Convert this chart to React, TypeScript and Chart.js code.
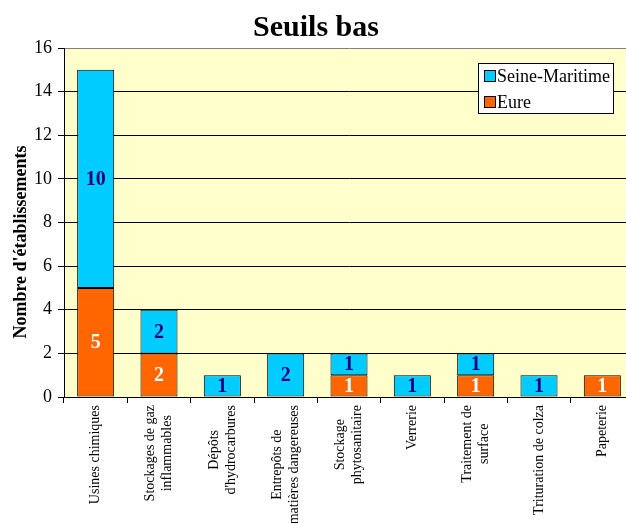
import React, { useEffect, useRef } from "react";
import { Chart, registerables } from "chart.js";

Chart.register(...registerables);

const categories: string[][] = [
  ["Usines chimiques"],
  ["Stockages de gaz", "inflammables"],
  ["Dépôts", "d'hydrocarbures"],
  ["Entrepôts de", "matières dangereuses"],
  ["Stockage", "phytosanitaire"],
  ["Verrerie"],
  ["Traitement de", "surface"],
  ["Trituration de colza"],
  ["Papeterie"],
];
const eure = [5, 2, 0, 0, 1, 0, 1, 0, 1];
const seineMaritime = [10, 2, 1, 2, 1, 1, 1, 1, 0];
const seriesNames = ["Eure", "Seine-Maritime"];
const yMin = 0;
const yMax = 16;
const yStep = 2;
const titleText = "Seuils bas";
const yTitleText = "Nombre d'établissements";

const SERIF = '"Liberation Serif", "Times New Roman", serif';
const COLORS = ["#FF6600", "#00CCFF"];
const LABEL_COLORS = ["#FFFFFF", "#000080"];

export default function App() {
  const ref = useRef<HTMLCanvasElement | null>(null);

  useEffect(() => {
    if (!ref.current) return;

    const bgPlugin = {
      id: "plotBg",
      beforeDraw(chart: any) {
        const { ctx, chartArea } = chart;
        ctx.save();
        ctx.fillStyle = "#FFFFCC";
        ctx.fillRect(chartArea.left, chartArea.top, chartArea.right - chartArea.left, chartArea.bottom - chartArea.top);
        ctx.restore();
      },
    };

    const textPlugin = {
      id: "texts",
      afterDatasetsDraw(chart: any) {
        const { ctx } = chart;
        ctx.save();
        ctx.font = `bold 20px ${SERIF}`;
        ctx.textAlign = "center";
        ctx.textBaseline = "middle";
        chart.data.datasets.forEach((ds: any, di: number) => {
          const meta = chart.getDatasetMeta(di);
          meta.data.forEach((el: any, i: number) => {
            const v = ds.data[i];
            if (!v) return;
            const p = el.getProps(["x", "y", "base"], true);
            ctx.fillStyle = LABEL_COLORS[di];
            ctx.fillText(String(v), p.x, (p.y + p.base) / 2 + 1);
          });
        });
        ctx.restore();
      },
      afterDraw(chart: any) {
        const { ctx, chartArea } = chart;
        const xs = chart.scales.x;
        ctx.save();
        // Title
        ctx.fillStyle = "#000";
        ctx.font = `bold 30px ${SERIF}`;
        ctx.textAlign = "center";
        ctx.textBaseline = "alphabetic";
        ctx.fillText(titleText, 316, 36);
        // Y title
        ctx.save();
        ctx.translate(21, 242);
        ctx.rotate(-Math.PI / 2);
        ctx.font = `bold 18px ${SERIF}`;
        ctx.textBaseline = "middle";
        ctx.fillText(yTitleText, 0, 0);
        ctx.restore();
        // X labels
        ctx.font = `14px ${SERIF}`;
        ctx.textAlign = "center";
        ctx.textBaseline = "middle";
        categories.forEach((lines, i) => {
          const x = xs.getPixelForValue(i);
          const maxW = Math.max(...lines.map((l) => ctx.measureText(l).width));
          const top = chartArea.bottom + 8;
          ctx.save();
          ctx.translate(x, top + maxW / 2);
          ctx.rotate(-Math.PI / 2);
          lines.forEach((l, j) => {
            ctx.fillText(l, 0, (j - (lines.length - 1) / 2) * 17);
          });
          ctx.restore();
        });
        // Legend
        const bx = 478, by = 63, bw = 135, bh = 50;
        ctx.fillStyle = "#FFFFFF";
        ctx.fillRect(bx, by, bw, bh);
        ctx.strokeStyle = "#000";
        ctx.lineWidth = 1;
        ctx.strokeRect(bx + 0.5, by + 0.5, bw, bh);
        const items = chart.data.datasets.map((d: any, k: number) => ({ label: d.label, color: d.backgroundColor, k })).reverse();
        ctx.font = `18px ${SERIF}`;
        ctx.textAlign = "left";
        ctx.textBaseline = "middle";
        items.forEach((it: any, n: number) => {
          const cy = by + 13 + n * 26;
          ctx.fillStyle = it.color;
          ctx.fillRect(484, cy - 5.5, 11, 11);
          ctx.strokeRect(484.5, cy - 5.5, 11, 11);
          ctx.fillStyle = "#000";
          ctx.fillText(it.label, 497, cy + 1);
        });
        ctx.restore();
      },
    };

    const chart = new Chart(ref.current, {
      type: "bar",
      data: {
        labels: categories.map((c) => c.join(" ")),
        datasets: [
          {
            label: seriesNames[0],
            data: eure.map((v) => (v ? v : null)) as any,
            backgroundColor: COLORS[0],
            borderColor: "#000",
            borderWidth: 1,
            borderSkipped: false,
            barPercentage: 0.585,
            categoryPercentage: 1,
          },
          {
            label: seriesNames[1],
            data: seineMaritime.map((v) => (v ? v : null)) as any,
            backgroundColor: COLORS[1],
            borderColor: "#000",
            borderWidth: 1,
            borderSkipped: false,
            barPercentage: 0.585,
            categoryPercentage: 1,
          },
        ],
      },
      options: {
        responsive: false,
        animation: false,
        layout: { padding: { left: 0, right: 6, top: 48, bottom: 120 } },
        plugins: {
          legend: { display: false },
          title: { display: false },
          tooltip: { enabled: false },
        },
        scales: {
          x: {
            stacked: true,
            grid: { offset: true, drawOnChartArea: false, tickLength: 6, color: "#000", tickColor: "#000" },
            border: { color: "#000", width: 1 },
            ticks: { display: false },
          },
          y: {
            stacked: true,
            min: yMin,
            max: yMax,
            afterFit(scale: any) {
              scale.width = 64;
            },
            ticks: {
              stepSize: yStep,
              padding: 6,
              color: "#000",
              font: { family: SERIF, size: 18 },
            },
            grid: {
              color: (c: any) => (c.tick && c.tick.value === yMax ? "#808080" : "#000"),
              tickColor: "#000",
              tickLength: 6,
            },
            border: { color: "#000", width: 1 },
          },
        },
      },
      plugins: [bgPlugin, textPlugin],
    });

    return () => chart.destroy();
  }, []);

  return (
    <div style={{ position: "fixed", left: 0, top: 0, width: 626, height: 523, overflow: "hidden", background: "#fff" }}>
      <canvas ref={ref} width={640} height={523} style={{ display: "block" }} />
    </div>
  );
}
